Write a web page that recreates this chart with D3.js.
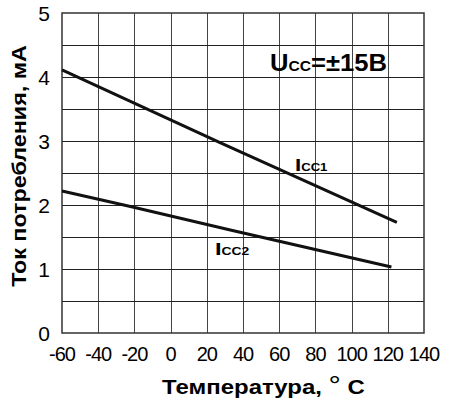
<!DOCTYPE html>
<html>
<head>
<meta charset="utf-8">
<script src="https://cdn.jsdelivr.net/npm/d3@7"></script>
<style>
  body { margin: 0; background: #fff; }
  text { font-family: "Liberation Sans", Arial, sans-serif; }
</style>
</head>
<body>
<div id="chart"></div>
<script>
// data
var temps1 = [-60, 27, 125];
var icc1 = [4.11, 2.98, 1.73];
var temps2 = [-60, -21, 33, 122];
var icc2 = [2.22, 1.97, 1.61, 1.03];
var xTicks = [-60, -40, -20, 0, 20, 40, 60, 80, 100, 120, 140];
var yTicks = [0, 1, 2, 3, 4, 5];
var yGrid = [0.5, 1, 1.5, 2, 2.5, 3, 3.5, 4, 4.5];

var W = 456, H = 400;
var m = {left: 62, top: 13, right: 32, bottom: 67};

var svg = d3.select('#chart').append('svg')
  .attr('width', W)
  .attr('height', H);

var x = d3.scaleLinear().domain([-60, 140]).range([m.left, W - m.right]);
var y = d3.scaleLinear().domain([0, 5]).range([H - m.bottom, m.top]);

// the bold captions are wider in the original than our font, stretch them
function stretch(t, left, right) {
  var bb = t.node().getBBox();
  var k = (right - left) / bb.width;
  var cx = bb.x + bb.width / 2, tx = (left + right) / 2;
  t.attr('transform', 'translate(' + tx + ',0) scale(' + k + ',1) translate(' + (-cx) + ',0)');
}

// grid
svg.append('g').selectAll('line.v')
  .data(xTicks.slice(1, -1))
  .enter().append('line')
  .attr('x1', function (d) { return Math.round(x(d)) + 0.5; })
  .attr('x2', function (d) { return Math.round(x(d)) + 0.5; })
  .attr('y1', y(0)).attr('y2', y(5))
  .attr('stroke', '#444').attr('stroke-width', 1);
svg.append('g').selectAll('line.h')
  .data(yGrid)
  .enter().append('line')
  .attr('y1', function (d) { return Math.round(y(d)) + 0.5; })
  .attr('y2', function (d) { return Math.round(y(d)) + 0.5; })
  .attr('x1', x(-60)).attr('x2', x(140))
  .attr('stroke', '#222').attr('stroke-width', 1);
svg.append('rect')
  .attr('x', x(-60)).attr('y', y(5))
  .attr('width', x(140) - x(-60)).attr('height', y(0) - y(5))
  .attr('fill', 'none').attr('stroke', '#333').attr('stroke-width', 1.5);

// tick labels
svg.append('g').selectAll('text')
  .data(yTicks)
  .enter().append('text')
  .attr('x', 44).attr('y', function (d) { return y(d) + 8; })
  .attr('text-anchor', 'middle')
  .style('font-size', '21px')
  .text(function (d) { return d; });
svg.append('g').selectAll('text')
  .data(xTicks)
  .enter().append('text')
  .attr('x', function (d) { return x(d); })
  .attr('y', y(0) + 28)
  .attr('text-anchor', 'middle')
  .style('font-size', '20px')
  .style('letter-spacing', '-1px')
  .text(function (d) { return d < 0 ? '-' + (-d) : d; });

// curves
var line = d3.line()
  .x(function (d) { return x(d[0]); })
  .y(function (d) { return y(d[1]); });
svg.append('path')
  .attr('d', line(d3.zip(temps1, icc1)))
  .attr('fill', 'none').attr('stroke', '#111').attr('stroke-width', 3);
svg.append('path')
  .attr('d', line(d3.zip(temps2, icc2)))
  .attr('fill', 'none').attr('stroke', '#111').attr('stroke-width', 3);

// labels
function subLabel(left, right, py, big, small, rest, bigSize) {
  var t = svg.append('text').attr('x', left).attr('y', py)
    .style('font-weight', 'bold');
  t.append('tspan').style('font-size', bigSize + 'px').text(big);
  t.append('tspan').style('font-size', Math.round(bigSize * 0.6) + 'px').text(small);
  if (rest) t.append('tspan').style('font-size', bigSize + 'px').text(rest);
  stretch(t, left, right);
}
subLabel(270, 387, 71, 'U', 'CC', '=±15B', 23);
subLabel(295, 328, 171, 'I', 'CC1', null, 17);
subLabel(215, 250, 255, 'I', 'CC2', null, 17);

// axis titles
var xt = svg.append('text')
  .attr('x', 263).attr('y', 394)
  .attr('text-anchor', 'middle')
  .style('font-size', '21px').style('font-weight', 'bold');
xt.append('tspan').text('Температура, ');
xt.append('tspan').style('font-size', '27px').style('font-weight', 'normal')
  .attr('dy', 1).text('°');
xt.append('tspan').attr('dy', -1).text(' C');
stretch(xt, 162, 365);

var yg = svg.append('g')
  .attr('transform', 'translate(26,' + 166 + ') rotate(-90)');
var yt = yg.append('text')
  .attr('x', 0).attr('y', 0)
  .attr('text-anchor', 'middle')
  .style('font-size', '21px').style('font-weight', 'bold')
  .text('Ток потребления, мА');
stretch(yt, -121, 121);
</script>
</body>
</html>
